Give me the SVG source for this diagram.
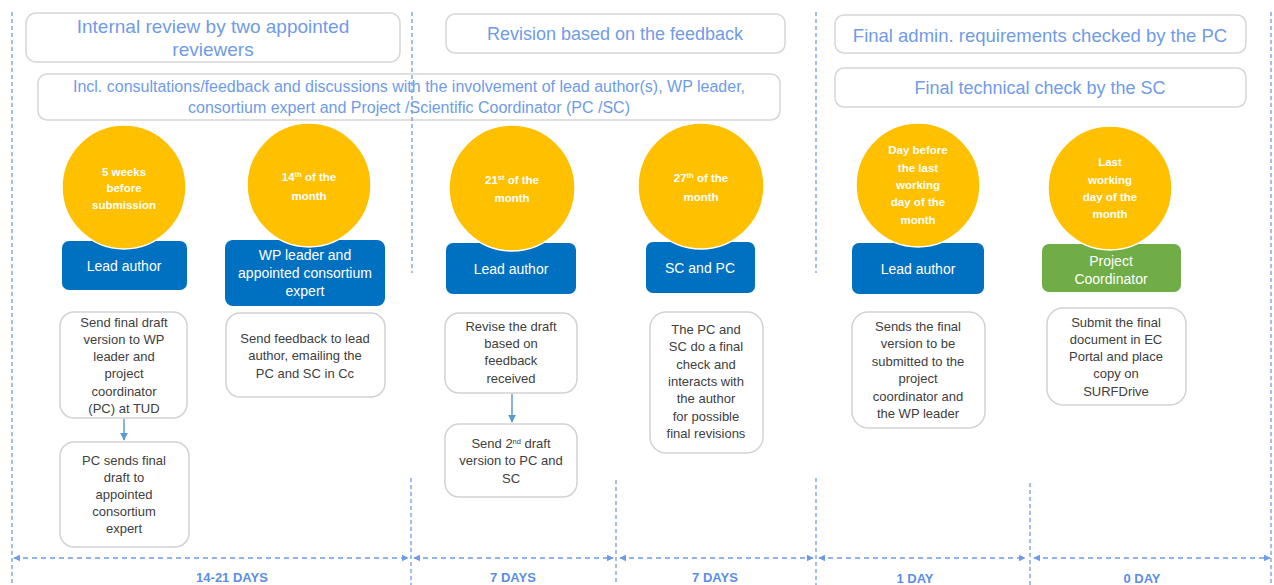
<svg xmlns="http://www.w3.org/2000/svg" width="1274" height="585" viewBox="0 0 1274 585">
  <style>
    text { font-family: "Liberation Sans", Arial, sans-serif; text-anchor: middle; }
    .hdr rect { fill: #ffffff; stroke: #d6d6d6; stroke-width: 1.5; }
    .hdr text { fill: #6f9be8; font-size: 18px; }
    .date circle { fill: #ffc000; stroke: #ffffff; stroke-width: 1.5; }
    .date text { fill: #ffffff; font-size: 11.5px; font-weight: bold; }
    .role rect { fill: #0070c0; }
    .role.green rect { fill: #70ad47; }
    .role text { fill: #ffffff; font-size: 14px; }
    .task rect { fill: #ffffff; stroke: #d2d2d2; stroke-width: 1.5; }
    .task text { fill: #404040; font-size: 13px; }
    .grid line { stroke: #6d9be8; stroke-width: 1.3; stroke-dasharray: 4 3; }
    .span line { stroke: #6d9be8; stroke-width: 1.5; stroke-dasharray: 5 4; marker-start: url(#tipL); marker-end: url(#tipR); }
    .flow line { stroke: #5b9bd5; stroke-width: 1.5; marker-end: url(#down); }
    .days text { fill: #5b8ee6; font-size: 13px; font-weight: bold; }
  </style>
  <defs>
    <marker id="tipR" viewBox="0 0 10 10" refX="9" refY="5" markerWidth="7" markerHeight="7" orient="auto" markerUnits="userSpaceOnUse">
      <path d="M0,0 L10,5 L0,10 z" fill="#6d9be8"/>
    </marker>
    <marker id="tipL" viewBox="0 0 10 10" refX="1" refY="5" markerWidth="7" markerHeight="7" orient="auto" markerUnits="userSpaceOnUse">
      <path d="M10,0 L0,5 L10,10 z" fill="#6d9be8"/>
    </marker>
    <marker id="down" viewBox="0 0 10 10" refX="9" refY="5" markerWidth="8" markerHeight="8" orient="auto" markerUnits="userSpaceOnUse">
      <path d="M0,0 L10,5 L0,10 z" fill="#5b9bd5"/>
    </marker>
  </defs>

  <rect width="1274" height="585" fill="#ffffff"/>

  <!-- phase headers -->
  <g id="hdr-review" class="hdr">
    <rect x="26" y="13" width="374" height="49" rx="10"/>
    <text x="213" y="33" style="font-size:19px">Internal review by two appointed</text>
    <text x="213" y="56" style="font-size:19px">reviewers</text>
  </g>
  <g id="hdr-revision" class="hdr">
    <rect x="446" y="14" width="339" height="39" rx="9"/>
    <text x="615" y="40">Revision based on the feedback</text>
  </g>
  <g id="hdr-admin" class="hdr">
    <rect x="835" y="15" width="411" height="38" rx="9"/>
    <text x="1040" y="42" style="font-size:18.5px">Final admin. requirements checked by the PC</text>
  </g>
  <g id="hdr-consult" class="hdr">
    <rect x="38" y="74" width="742" height="46" rx="9"/>
    <text x="409" y="92" style="font-size:16px">Incl. consultations/feedback and discussions with the involvement of lead author(s), WP leader,</text>
    <text x="409" y="113" style="font-size:16px">consortium expert and Project /Scientific Coordinator (PC /SC)</text>
  </g>
  <g id="hdr-technical" class="hdr">
    <rect x="835" y="68" width="411" height="39" rx="9"/>
    <text x="1040" y="94">Final technical check by the SC</text>
  </g>

  <!-- phase separators and duration spans -->
  <g id="connectors">
    <g class="grid">
      <line x1="12" y1="12" x2="12" y2="585"/>
      <line x1="1271" y1="12" x2="1271" y2="585"/>
      <line x1="412" y1="12" x2="412" y2="273"/>
      <line x1="411" y1="478" x2="411" y2="585"/>
      <line x1="616" y1="480" x2="616" y2="585"/>
      <line x1="816" y1="12" x2="816" y2="273"/>
      <line x1="816" y1="478" x2="816" y2="585"/>
      <line x1="1030" y1="483" x2="1030" y2="585"/>
    </g>
    <g class="span">
      <line x1="14" y1="558" x2="408" y2="558"/>
      <line x1="414" y1="558" x2="613" y2="558"/>
      <line x1="620" y1="558" x2="813" y2="558"/>
      <line x1="819" y1="558" x2="1025" y2="558"/>
      <line x1="1034" y1="558" x2="1270" y2="558"/>
    </g>
    <g class="flow">
      <line x1="124" y1="419" x2="124" y2="440"/>
      <line x1="512" y1="394" x2="512" y2="422"/>
    </g>
  </g>

  <!-- column 1 -->
  <g id="role-lead-1" class="role">
    <rect x="62" y="241" width="125" height="49" rx="7"/>
    <text x="124" y="271">Lead author</text>
  </g>
  <g id="date-5weeks" class="date">
    <circle cx="124" cy="187" r="62"/>
    <text x="124" y="176">5 weeks</text>
    <text x="124" y="192">before</text>
    <text x="124" y="209">submission</text>
  </g>
  <g id="task-send-final" class="task">
    <rect x="60" y="312" width="127" height="106" rx="14"/>
    <text x="124" y="327">Send final draft</text>
    <text x="124" y="344">version to WP</text>
    <text x="124" y="361">leader and</text>
    <text x="124" y="378">project</text>
    <text x="124" y="396">coordinator</text>
    <text x="124" y="413">(PC) at TUD</text>
  </g>
  <g id="task-pc-sends" class="task">
    <rect x="60" y="442" width="129" height="105" rx="14"/>
    <text x="124" y="465">PC sends final</text>
    <text x="124" y="482">draft to</text>
    <text x="124" y="499">appointed</text>
    <text x="124" y="516">consortium</text>
    <text x="124" y="533">expert</text>
  </g>

  <!-- column 2 -->
  <g id="role-wp" class="role">
    <rect x="225" y="240" width="160" height="66" rx="8"/>
    <text x="305" y="260">WP leader and</text>
    <text x="305" y="278">appointed consortium</text>
    <text x="305" y="296">expert</text>
  </g>
  <g id="date-14th" class="date">
    <circle cx="309" cy="185" r="62"/>
    <text x="309" y="181">14<tspan font-size="7.5" dy="-4">th</tspan><tspan dy="4"> of the</tspan></text>
    <text x="309" y="200">month</text>
  </g>
  <g id="task-feedback" class="task">
    <rect x="226" y="313" width="159" height="84" rx="14"/>
    <text x="305" y="343">Send feedback to lead</text>
    <text x="305" y="360">author, emailing the</text>
    <text x="305" y="378">PC and SC in Cc</text>
  </g>

  <!-- column 3 -->
  <g id="role-lead-2" class="role">
    <rect x="446" y="243" width="130" height="51" rx="7"/>
    <text x="511" y="274">Lead author</text>
  </g>
  <g id="date-21st" class="date">
    <circle cx="512" cy="188" r="63"/>
    <text x="512" y="184">21<tspan font-size="7.5" dy="-4">st</tspan><tspan dy="4"> of the</tspan></text>
    <text x="512" y="202">month</text>
  </g>
  <g id="task-revise" class="task">
    <rect x="445" y="313" width="132" height="80" rx="14"/>
    <text x="511" y="331">Revise the draft</text>
    <text x="511" y="348">based on</text>
    <text x="511" y="365">feedback</text>
    <text x="511" y="383">received</text>
  </g>
  <g id="task-second-draft" class="task">
    <rect x="445" y="424" width="132" height="73" rx="14"/>
    <text x="511" y="448">Send 2<tspan font-size="7.5" dy="-4">nd</tspan><tspan dy="4"> draft</tspan></text>
    <text x="511" y="465">version to PC and</text>
    <text x="511" y="483">SC</text>
  </g>

  <!-- column 4 -->
  <g id="role-scpc" class="role">
    <rect x="646" y="242" width="109" height="51" rx="7"/>
    <text x="700" y="273">SC and PC</text>
  </g>
  <g id="date-27th" class="date">
    <circle cx="701" cy="186" r="63"/>
    <text x="701" y="182">27<tspan font-size="7.5" dy="-4">th</tspan><tspan dy="4"> of the</tspan></text>
    <text x="701" y="201">month</text>
  </g>
  <g id="task-final-check" class="task">
    <rect x="650" y="312" width="113" height="141" rx="16"/>
    <text x="706" y="334">The PC and</text>
    <text x="706" y="351">SC do a final</text>
    <text x="706" y="369">check and</text>
    <text x="706" y="386">interacts with</text>
    <text x="706" y="403">the author</text>
    <text x="706" y="421">for possible</text>
    <text x="706" y="438">final revisions</text>
  </g>

  <!-- column 5 -->
  <g id="role-lead-3" class="role">
    <rect x="852" y="243" width="132" height="51" rx="7"/>
    <text x="918" y="274">Lead author</text>
  </g>
  <g id="date-day-before" class="date">
    <circle cx="918" cy="185" r="62"/>
    <text x="918" y="154">Day before</text>
    <text x="918" y="172">the last</text>
    <text x="918" y="189">working</text>
    <text x="918" y="206">day of the</text>
    <text x="918" y="224">month</text>
  </g>
  <g id="task-sends-final" class="task">
    <rect x="852" y="312" width="133" height="116" rx="16"/>
    <text x="918" y="331">Sends the final</text>
    <text x="918" y="348">version to be</text>
    <text x="918" y="366">submitted to the</text>
    <text x="918" y="383">project</text>
    <text x="918" y="401">coordinator and</text>
    <text x="918" y="418">the WP leader</text>
  </g>

  <!-- column 6 -->
  <g id="role-pc" class="role green">
    <rect x="1042" y="244" width="139" height="48" rx="7"/>
    <text x="1111" y="266">Project</text>
    <text x="1111" y="284">Coordinator</text>
  </g>
  <g id="date-last-day" class="date">
    <circle cx="1110" cy="188" r="62"/>
    <text x="1110" y="166">Last</text>
    <text x="1110" y="184">working</text>
    <text x="1110" y="201">day of the</text>
    <text x="1110" y="218">month</text>
  </g>
  <g id="task-submit" class="task">
    <rect x="1047" y="308" width="139" height="97" rx="16"/>
    <text x="1116" y="327">Submit the final</text>
    <text x="1116" y="344">document in EC</text>
    <text x="1116" y="361">Portal and place</text>
    <text x="1116" y="378">copy on</text>
    <text x="1116" y="396">SURFDrive</text>
  </g>

  <!-- durations -->
  <g id="durations" class="days">
    <text x="232" y="582">14-21 DAYS</text>
    <text x="513" y="582">7 DAYS</text>
    <text x="715" y="582">7 DAYS</text>
    <text x="915" y="583">1 DAY</text>
    <text x="1142" y="583">0 DAY</text>
  </g>
</svg>
